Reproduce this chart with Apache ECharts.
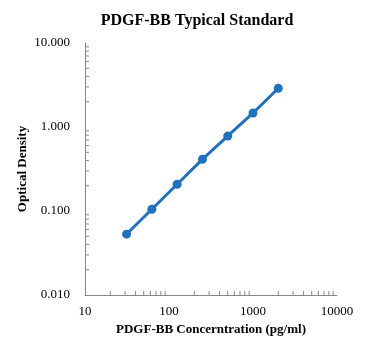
<!DOCTYPE html>
<html>
<head>
<meta charset="utf-8">
<script src="https://cdn.jsdelivr.net/npm/echarts@6/dist/echarts.min.js"></script>
<style>
  html, body { margin: 0; padding: 0; background: #fff; }
  #chart { width: 370px; height: 353px; }
</style>
</head>
<body>
<div id="chart"></div>
<script>
// standard curve
const concentrations = [31.25, 62.5, 125, 250, 500, 1000, 2000];
const densities = [0.053, 0.105, 0.208, 0.412, 0.78, 1.47, 2.89];
// minor tick positions (log spaced, like excel)
const xMinorTicks = [20, 30, 40, 50, 60, 70, 80, 90, 200, 300, 400, 500, 600, 700, 800, 900,
  2000, 3000, 4000, 5000, 6000, 7000, 8000, 9000];
const yMinorTicks = [0.02, 0.03, 0.04, 0.05, 0.06, 0.07, 0.08, 0.09, 0.2, 0.3, 0.4, 0.5, 0.6, 0.7, 0.8, 0.9,
  2, 3, 4, 5, 6, 7, 8, 9];

const chart = echarts.init(document.getElementById("chart"));
const serif = "'Liberation Serif', 'Times New Roman', serif";
const axisGrey = "#868686";

function tickSeries(values, horizontal) {
  return {
    type: "custom",
    silent: true,
    z: 1,
    data: values.map(v => [v]),
    renderItem: (params, api) => {
      const v = api.value(0);
      let p, shape;
      if (horizontal) {
        p = api.coord([v, 0.01]);
        shape = { x1: p[0], y1: p[1], x2: p[0], y2: p[1] - 4 };
      } else {
        p = api.coord([10, v]);
        shape = { x1: p[0], y1: p[1], x2: p[0] + 4, y2: p[1] };
      }
      return { type: "line", shape: shape, style: { stroke: axisGrey, lineWidth: 1 } };
    }
  };
}

chart.setOption({
  animation: false,
  title: {
    text: "PDGF-BB Typical Standard",
    left: 192,
    textAlign: "center",
    top: 8,
    textStyle: { fontFamily: serif, fontSize: 16, fontWeight: "bold", color: "#000" }
  },
  grid: { left: 85, right: 33, top: 43, bottom: 58 },
  xAxis: {
    type: "log",
    logBase: 10,
    min: 10,
    max: 10000,
    name: "PDGF-BB Concerntration (pg/ml)",
    nameLocation: "middle",
    nameGap: 28,
    nameTextStyle: { fontFamily: serif, fontSize: 13, fontWeight: "bold", color: "#000" },
    axisLine: { lineStyle: { color: axisGrey } },
    axisTick: { show: false },
    axisLabel: {
      fontFamily: serif, fontSize: 13, color: "#000", margin: 10,
      formatter: v => String(Math.round(v))
    },
    splitLine: { show: false }
  },
  yAxis: {
    type: "log",
    logBase: 10,
    min: 0.01,
    max: 10,
    name: "Optical Density",
    nameLocation: "middle",
    nameGap: 56,
    nameMoveOverlap: false,
    nameTextStyle: { fontFamily: serif, fontSize: 13, fontWeight: "bold", color: "#000" },
    axisLine: { show: true, lineStyle: { color: axisGrey } },
    axisTick: { show: false },
    axisLabel: {
      fontFamily: serif, fontSize: 13, color: "#000", margin: 15,
      formatter: v => Number(v).toFixed(3)
    },
    splitLine: { show: false }
  },
  series: [
    tickSeries(xMinorTicks, true),
    tickSeries(yMinorTicks, false),
    {
      type: "line",
      smooth: 0.3,
      data: concentrations.map((c, i) => [c, densities[i]]),
      symbol: "circle",
      symbolSize: 9,
      lineStyle: { color: "#1f72c1", width: 3 },
      itemStyle: { color: "#1f72c1" }
    }
  ]
});
</script>
</body>
</html>
